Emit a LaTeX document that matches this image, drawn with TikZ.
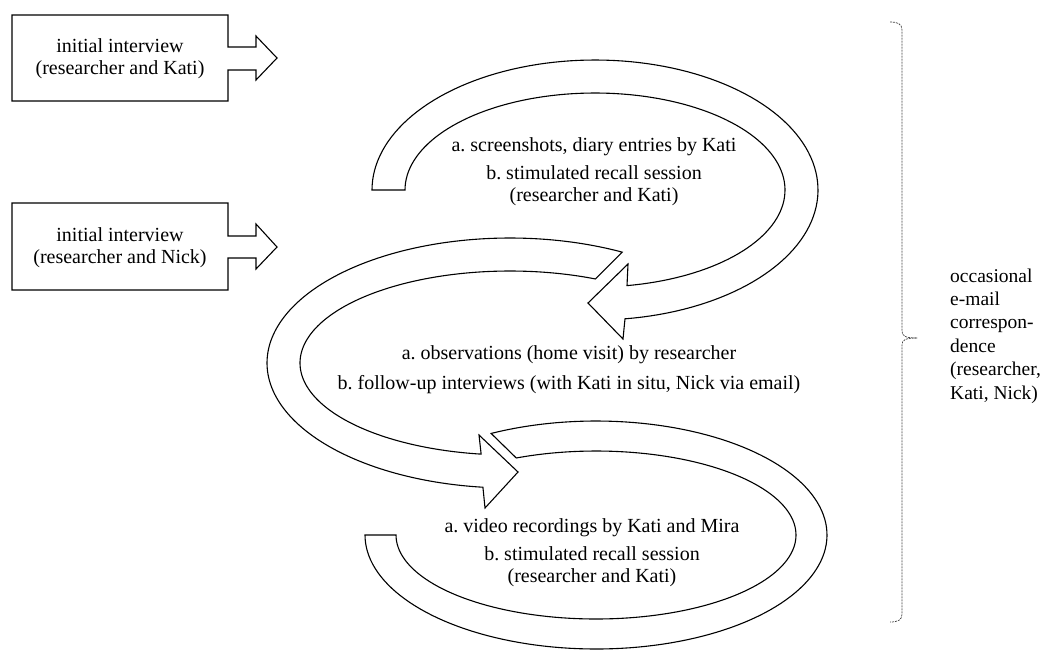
\documentclass[tikz,border=0pt]{standalone}
\usepackage{fontspec}
\setmainfont{Liberation Serif}
\frenchspacing
\begin{document}
\frenchspacing
\begin{tikzpicture}[x=1pt,y=-1pt,
  band/.style={draw, fill=white, line width=1.1pt, line join=miter},
  txt/.style={inner sep=0pt, align=center, font=\fontsize{20}{22}\selectfont},
  sidetxt/.style={inner sep=0pt, align=left, anchor=west, font=\fontsize{19.5}{23.4}\selectfont},
  bracestyle/.style={draw=black!75, line width=0.7pt, dash pattern=on 2pt off 1pt}]
\useasboundingbox (0,0) rectangle (1046,649);

% box arrows
\draw[band] (12,15) -- (228,15) -- (228,47) -- (256,47) -- (256,36) -- (277,58)
  -- (256,80) -- (256,70) -- (228,70) -- (228,101) -- (12,101) -- cycle;
\node[txt] (kati) at (120,59) {initial interview\\(researcher and Kati)};

\draw[band] (12,203) -- (228,203) -- (228,236) -- (256,236) -- (256,224) -- (277,247)
  -- (256,269) -- (256,258) -- (228,258) -- (228,290) -- (12,290) -- cycle;
\node[txt] (nick) at (120,248) {initial interview\\(researcher and Nick)};

% arrow 1 (top loop)
\draw[band] plot[domain=180:442.27, samples=120, variable=\t] ({595+223*cos(\t)},{190+130*sin(\t)})
  -- (623,339) -- (588,303) -- (628,264)
  -- plot[domain=440.3:180, samples=120, variable=\t] ({595+190*cos(\t)},{190+97*sin(\t)}) -- cycle;

% arrow 2 (middle loop)
\draw[band] plot[domain=-62.5:-263.6, samples=140, variable=\t] ({510+243*cos(\t)},{363+125*sin(\t)})
  -- (485,508) -- (518,472) -- (479,435)
  -- plot[domain=-262.1:-66, samples=140, variable=\t] ({510+210*cos(\t)},{363+92*sin(\t)}) -- cycle;

% arrow 3 (bottom loop)
\draw[band] plot[domain=-117:180, samples=140, variable=\t] ({596+231*cos(\t)},{535+114*sin(\t)})
  -- plot[domain=180:-113.5, samples=140, variable=\t] ({596+200*cos(\t)},{535+84*sin(\t)}) -- cycle;

% texts
\node[txt] (s1) at (594,172) {a. screenshots, diary entries by Kati\\[6pt]b. stimulated recall session\\(researcher and Kati)};
\node[txt] (s2) at (569,370) {a. observations (home visit) by researcher\\[8pt]b. follow-up interviews (with Kati in situ, Nick via email)};
\node[txt] (s3) at (592,553) {a. video recordings by Kati and Mira\\[6pt]b. stimulated recall session\\(researcher and Kati)};

% brace
\coordinate (btop) at (890,22);
\coordinate (btip) at (917,338);
\coordinate (bbot) at (890,622);
\draw[bracestyle] (btop) .. controls (898,22) and (902,24) .. (902,30) -- (902,331)
  .. controls (902,336) and (905,338) .. (btip);
\draw[bracestyle] (btip) .. controls (905,338) and (902,340) .. (902,345) -- (902,614)
  .. controls (902,620) and (898,622) .. (bbot);
\node[sidetxt] (mail) at (950,336) {occasional\\e-mail\\correspon-\\dence\\(researcher,\\Kati, Nick)};
\end{tikzpicture}
\end{document}
